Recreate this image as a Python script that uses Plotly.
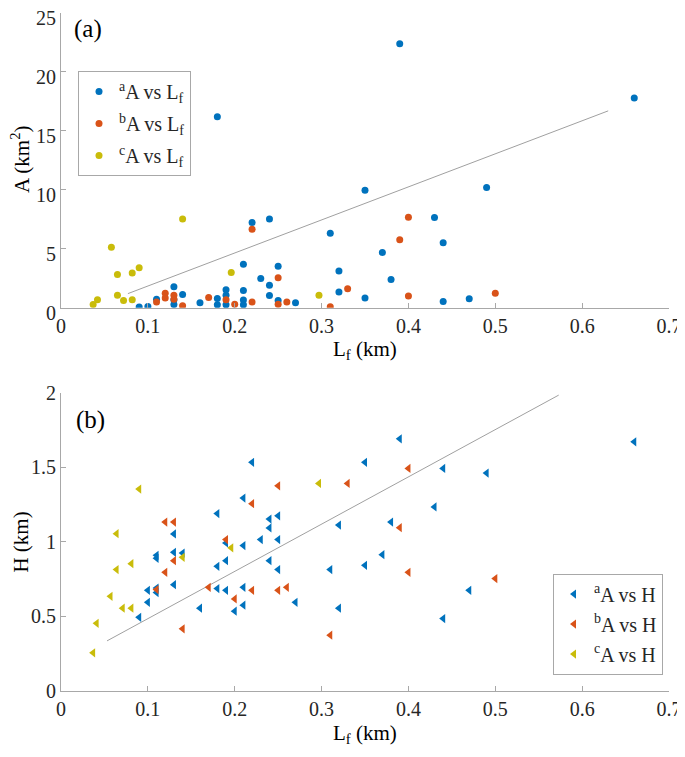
import plotly.graph_objects as go

# ---------------- data: panel (a)  A vs Lf ----------------
lf_a_a = [0.09, 0.10, 0.11, 0.13, 0.13, 0.13, 0.14, 0.16, 0.18, 0.18, 0.18, 0.19, 0.19, 0.19,
          0.21, 0.21, 0.21, 0.21, 0.22, 0.23, 0.24, 0.24, 0.24, 0.25, 0.25, 0.27, 0.31, 0.32,
          0.32, 0.35, 0.35, 0.37, 0.38, 0.39, 0.43, 0.44, 0.44, 0.47, 0.49, 0.66]
A_a = [0.06, 0.11, 0.73, 1.78, 0.68, 0.28, 1.13, 0.42, 16.2, 0.79, 0.25, 1.53, 1.07, 0.25,
       3.70, 1.47, 0.65, 0.25, 7.23, 2.48, 7.54, 1.92, 1.04, 3.53, 0.62, 0.42, 6.33, 3.11,
       1.33, 9.97, 0.82, 4.69, 2.40, 22.4, 7.65, 5.51, 0.54, 0.76, 10.2, 17.8]

lf_a_b = [0.11, 0.12, 0.12, 0.13, 0.13, 0.14, 0.17, 0.19, 0.20, 0.22, 0.22, 0.25, 0.25, 0.26,
          0.31, 0.33, 0.39, 0.40, 0.40, 0.50]
A_b = [0.48, 1.24, 0.82, 1.07, 0.73, 0.17, 0.87, 0.68, 0.31, 6.67, 0.48, 2.54, 0.31, 0.48,
       0.08, 1.62, 5.76, 7.68, 0.99, 1.24]

lf_a_c = [0.14, 0.058, 0.065, 0.082, 0.09, 0.065, 0.072, 0.082, 0.042, 0.037, 0.196, 0.297]
A_c = [7.54, 5.14, 2.82, 2.94, 3.39, 1.07, 0.62, 0.68, 0.68, 0.28, 2.99, 1.07]

fit_a_x = [0.077, 0.63]
fit_a_y = [1.2, 16.7]

# ---------------- data: panel (b)  H vs Lf ----------------
lf_h_a = [0.22, 0.21, 0.18, 0.13, 0.11, 0.11, 0.13, 0.14, 0.21, 0.23, 0.24, 0.24, 0.25, 0.25,
          0.18, 0.19, 0.24, 0.25, 0.13, 0.10, 0.11, 0.11, 0.10, 0.09, 0.18, 0.19, 0.21, 0.16,
          0.20, 0.21, 0.19, 0.39, 0.35, 0.44, 0.43, 0.38, 0.32, 0.37, 0.35, 0.31, 0.27, 0.32,
          0.44, 0.47, 0.49, 0.66]
H_a = [1.533, 1.294, 1.19, 1.053, 0.91, 0.89, 0.93, 0.925, 0.975, 1.015, 1.093, 1.153, 1.175,
       1.015, 0.836, 0.874, 0.874, 0.814, 0.713, 0.675, 0.69, 0.66, 0.595, 0.494, 0.687, 0.675,
       0.695, 0.555, 0.535, 0.575, 0.993, 1.691, 1.533, 1.492, 1.234, 1.133, 1.113, 0.914,
       0.843, 0.814, 0.595, 0.555, 0.486, 0.675, 1.461, 1.671]

lf_h_b = [0.12, 0.13, 0.13, 0.12, 0.11, 0.14, 0.17, 0.19, 0.20, 0.22, 0.22, 0.25, 0.25, 0.33,
          0.40, 0.39, 0.40, 0.26, 0.31, 0.50]
H_b = [1.133, 1.133, 0.874, 0.796, 0.68, 0.417, 0.695, 1.015, 0.617, 1.256, 0.675, 1.376,
       0.675, 1.392, 1.492, 1.095, 0.796, 0.695, 0.374, 0.754]

lf_h_c = [0.09, 0.064, 0.081, 0.064, 0.14, 0.057, 0.071, 0.081, 0.041, 0.037, 0.196, 0.297]
H_c = [1.354, 1.055, 0.854, 0.814, 0.896, 0.635, 0.555, 0.555, 0.454, 0.256, 0.96, 1.392]

fit_h_x = [0.053, 0.573]
fit_h_y = [0.336, 1.984]

x_ticks = [0, 0.1, 0.2, 0.3, 0.4, 0.5, 0.6, 0.7]
x_tick_labels = ["0", "0.1", "0.2", "0.3", "0.4", "0.5", "0.6", "0.7"]
ya_ticks = [0, 5, 10, 15, 20, 25]
yh_ticks = [0, 0.5, 1, 1.5, 2]
yh_tick_labels = ["0", "0.5", "1", "1.5", "2"]

names_a = ["<sup>a</sup>A vs L<sub>f</sub>", "<sup>b</sup>A vs L<sub>f</sub>", "<sup>c</sup>A vs L<sub>f</sub>"]
names_h = ["<sup>a</sup>A vs H", "<sup>b</sup>A vs H", "<sup>c</sup>A vs H"]

# ---------------- styling ----------------
C_BLUE = "#0072BD"
C_ORANGE = "#D95319"
C_YELLOW = "#C9BC0A"
FONT = "Times New Roman, Liberation Serif, serif"
TXT = "#262626"
AX = "#A8A8A8"

fig = go.Figure()

# fit lines
fig.add_trace(go.Scatter(x=fit_a_x, y=fit_a_y, mode="lines", line=dict(color="#A0A0A0", width=1),
                         showlegend=False, xaxis="x", yaxis="y", hoverinfo="skip"))
fig.add_trace(go.Scatter(x=fit_h_x, y=fit_h_y, mode="lines", line=dict(color="#A0A0A0", width=1),
                         showlegend=False, xaxis="x2", yaxis="y2", hoverinfo="skip"))

for i, (xs, ys, col, nm) in enumerate([(lf_a_a, A_a, C_BLUE, names_a[0]),
                                       (lf_a_b, A_b, C_ORANGE, names_a[1]),
                                       (lf_a_c, A_c, C_YELLOW, names_a[2])]):
    fig.add_trace(go.Scatter(x=xs, y=ys, mode="markers", name=nm, legendgroup="a%d" % i,
                             marker=dict(symbol="circle", size=7, color=col),
                             xaxis="x", yaxis="y", legend="legend"))

for i, (xs, ys, col, nm) in enumerate([(lf_h_a, H_a, C_BLUE, names_h[0]),
                                       (lf_h_b, H_b, C_ORANGE, names_h[1]),
                                       (lf_h_c, H_c, C_YELLOW, names_h[2])]):
    fig.add_trace(go.Scatter(x=xs, y=ys, mode="markers", name=nm, legendgroup="h%d" % i,
                             marker=dict(symbol="triangle-left", size=8, color=col),
                             xaxis="x2", yaxis="y2", legend="legend2"))

axis_common = dict(showline=True, linecolor=AX, linewidth=1, ticks="inside", ticklen=5,
                   tickcolor=AX, showgrid=False, zeroline=False, mirror=False, automargin=False,
                   ticklabeloverflow="allow",
                   tickfont=dict(family=FONT, size=20, color=TXT))

# page has an 8px body margin: plot area in viewport px -> figure margins
L_PX, R_PX, T_PX, B_PX = 61, 669, 13, 691.5
OFF = 8
H_PAPER = B_PX - T_PX
W_PAPER = R_PX - L_PX


def py(p):
    return (B_PX - p) / H_PAPER


def px(p):
    return (p - L_PX) / W_PAPER


fig.update_layout(
    width=685, height=757,
    margin=dict(l=L_PX - OFF, r=685 - R_PX + OFF, t=T_PX - OFF, b=757 - B_PX + OFF,
                autoexpand=False),
    paper_bgcolor="white", plot_bgcolor="white",
    font=dict(family=FONT, color=TXT),
    xaxis=dict(domain=[0, 1], range=[0, 0.7], tickvals=x_ticks, ticktext=x_tick_labels,
               anchor="y", **axis_common),
    yaxis=dict(domain=[py(308), 1], range=[0, 25], tickvals=ya_ticks, anchor="x",
               ticklabelshift=5, **axis_common),
    xaxis2=dict(domain=[0, 1], range=[0, 0.7], tickvals=x_ticks, ticktext=x_tick_labels,
                anchor="y2", **axis_common),
    yaxis2=dict(domain=[0, py(393)], range=[0, 2], tickvals=yh_ticks, ticktext=yh_tick_labels,
                anchor="x2", **axis_common),
    legend=dict(x=px(78), y=py(71), xanchor="left", yanchor="top",
                bgcolor="white", bordercolor=AX, borderwidth=1,
                font=dict(family=FONT, size=20, color=TXT), itemwidth=30, tracegroupgap=3),
    legend2=dict(x=px(553), y=py(574), xanchor="left", yanchor="top",
                 bgcolor="white", bordercolor=AX, borderwidth=1,
                 font=dict(family=FONT, size=20, color=TXT), itemwidth=30, tracegroupgap=1),
    showlegend=True,
)

annots = [
    dict(text="(a)", x=px(72), y=py(29), xanchor="left", yanchor="middle", font_size=25),
    dict(text="(b)", x=px(74), y=py(420), xanchor="left", yanchor="middle", font_size=25),
    dict(text="A (km<sup>2</sup>)", x=px(21), y=py(160), textangle=-90, xanchor="center",
         yanchor="middle", font_size=21),
    dict(text="H (km)", x=px(21), y=py(543), textangle=-90, xanchor="center",
         yanchor="middle", font_size=21),
    dict(text="L<sub>f</sub> (km)", x=px(365), y=py(350), xanchor="center", yanchor="middle",
         font_size=21),
    dict(text="L<sub>f</sub> (km)", x=px(365), y=py(735), xanchor="center", yanchor="middle",
         font_size=21),
]
for a in annots:
    fs = a.pop("font_size")
    fig.add_annotation(xref="paper", yref="paper", showarrow=False,
                       font=dict(family=FONT, size=fs, color="#000000"), **a)

fig.write_html("out.html")
